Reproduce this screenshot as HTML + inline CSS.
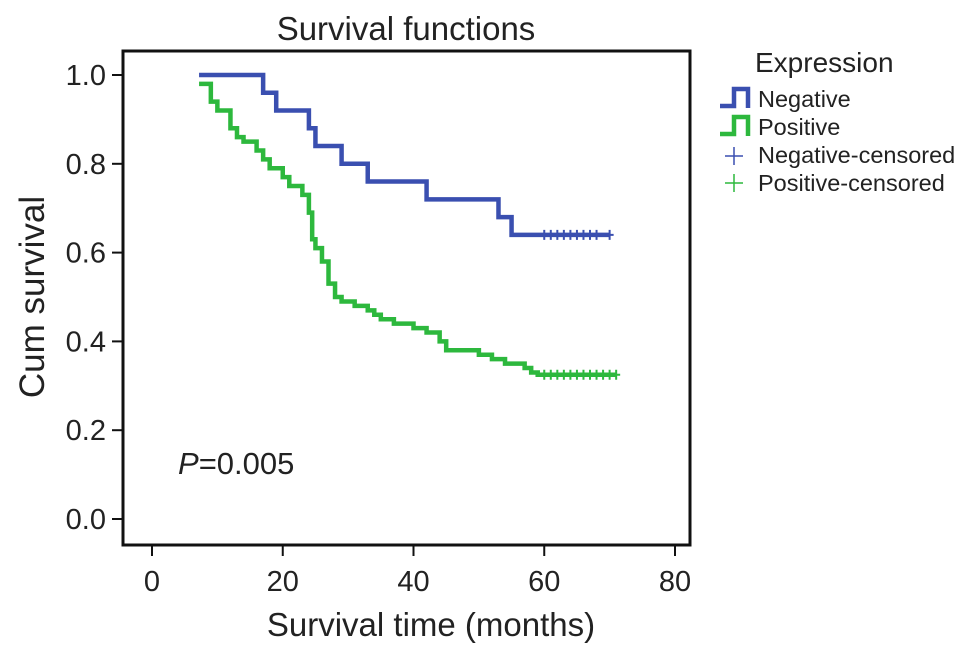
<!DOCTYPE html>
<html><head><meta charset="utf-8"><style>
html,body{margin:0;padding:0;background:#fff;}
svg{display:block;font-family:"Liberation Sans",Arial,sans-serif;}
</style></head><body>
<svg id="chart" width="969" height="653" viewBox="0 0 969 653">
<text x="406" y="40" font-size="33" text-anchor="middle" fill="#222">Survival functions</text>
<rect x="123" y="51" width="567" height="494" fill="none" stroke="#111" stroke-width="3"/>
<g id="axes"></g>
<g id="series"></g>
<text x="178" y="474" font-size="31" fill="#222"><tspan font-style="italic">P</tspan>=0.005</text>
<text x="431" y="636" font-size="33" text-anchor="middle" fill="#222">Survival time (months)</text>
<text transform="translate(44,297) rotate(-90)" font-size="35" text-anchor="middle" fill="#222">Cum survival</text>
<g>
<text x="755" y="72" font-size="28" fill="#222">Expression</text>
<g>
<path d="M720,106 H734 V89 H748 V108" fill="none" stroke="#3a4fb0" stroke-width="4.5"/>
<text x="758" y="107" font-size="23.5" fill="#222">Negative</text></g>
<g>
<path d="M720,134 H734 V117 H748 V136" fill="none" stroke="#2db83d" stroke-width="4.5"/>
<text x="758" y="135" font-size="23.5" fill="#222">Positive</text></g>
<g>
<path d="M725,156 H743 M734,147 V165" stroke="#3a4fb0" stroke-width="1.5"/>
<text x="758" y="163" font-size="23.5" fill="#222">Negative-censored</text></g>
<g>
<path d="M725,183 H743 M734,174 V192" stroke="#2db83d" stroke-width="1.5"/>
<text x="758" y="191" font-size="23.5" fill="#222">Positive-censored</text></g>
</g>
</svg>
<script>
const xTicks=[0,20,40,60,80];
const yTicks=[0.0,0.2,0.4,0.6,0.8,1.0];
const negTimes=[7.2,17,19,24,25,29,33,42,53,55,70];
const negSurv=[1.0,0.96,0.92,0.88,0.84,0.80,0.76,0.72,0.68,0.64,0.64];
const negCensored=[60,61,62,63,64,65,66,67,68,70];
const posTimes=[7.2,9,10,12,13,14,16,17,18,20,21,23,24,24.5,25,26,27,28,29,31,33,34,35,37,40,42,44,45,50,52,54,57,58,59,71];
const posSurv=[0.98,0.94,0.92,0.88,0.86,0.85,0.83,0.81,0.79,0.77,0.75,0.73,0.69,0.63,0.61,0.58,0.53,0.50,0.49,0.48,0.47,0.46,0.45,0.44,0.43,0.42,0.40,0.38,0.37,0.36,0.35,0.34,0.33,0.325,0.325];
const posCensored=[60,61,62,63,64,65,66,67,68,69,70,71];
const X=v=>152+v*(675-152)/80;
const Y=v=>519-v*(519-75);
const NS='http://www.w3.org/2000/svg';
const ax=document.getElementById('axes'),se=document.getElementById('series');
function mk(p,tag,a){const e=document.createElementNS(NS,tag);for(const k in a)e.setAttribute(k,a[k]);p.appendChild(e);return e;}
xTicks.forEach(t=>{
 const l=mk(ax,'line',{x1:X(t),x2:X(t),y1:545,y2:556,stroke:'#111','stroke-width':2});
 
 
 const s=mk(ax,'text',{x:X(t),y:591,'font-size':29,'text-anchor':'middle',fill:'#222'});s.textContent=t;
 
 
});
yTicks.forEach(t=>{
 const l=mk(ax,'line',{x1:112,x2:123,y1:Y(t),y2:Y(t),stroke:'#111','stroke-width':2});
 
 
 const s=mk(ax,'text',{x:106,y:Y(t)+10,'font-size':29,'text-anchor':'end',fill:'#222'});s.textContent=t.toFixed(1);
 
 
});
function curve(times,surv,cens,color,name){
 let d='M'+X(times[0])+','+Y(surv[0]);
 for(let i=1;i<times.length;i++){d+=' H'+X(times[i])+' V'+Y(surv[i]);}
 const p=mk(se,'path',{d:d,fill:'none',stroke:color,'stroke-width':4.5});
 
 
 const last=surv[surv.length-1];
 cens.forEach(c=>{
  const m=mk(se,'path',{d:'M'+(X(c)-4)+','+Y(last)+' H'+(X(c)+4)+' M'+X(c)+','+(Y(last)-5)+' V'+(Y(last)+5),stroke:color,'stroke-width':2});
  
  
 });
}
curve(negTimes,negSurv,negCensored,'#3a4fb0','negative');
curve(posTimes,posSurv,posCensored,'#2db83d','positive');
</script>
</body></html>
